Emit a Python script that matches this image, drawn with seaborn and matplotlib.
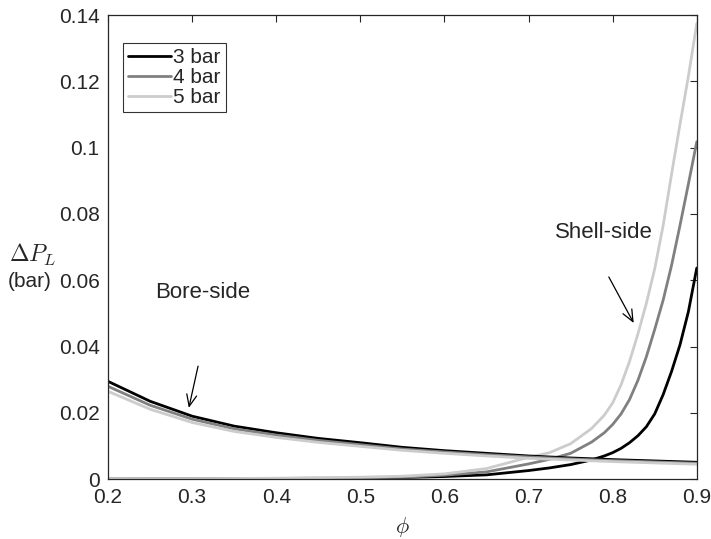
import matplotlib
matplotlib.use("Agg")
import matplotlib.pyplot as plt
import numpy as np
import pandas as pd
import seaborn as sns

sns.set_theme(style="white")
plt.rcParams['font.family'] = ['Liberation Sans', 'DejaVu Sans']
plt.rcParams['mathtext.fontset'] = 'cm'

pressures = ["3 bar", "4 bar", "5 bar"]
colors = ["#000000", "#808080", "#cccccc"]

# Bore-side pressure drop
phi_bore = [0.2, 0.25, 0.3, 0.35, 0.4, 0.45, 0.5, 0.55, 0.6, 0.65, 0.7, 0.75, 0.8, 0.85, 0.9]
bore_3 = [0.0295, 0.0235, 0.0190, 0.0160, 0.0140, 0.0123, 0.0110, 0.0096, 0.0086, 0.0078, 0.0070, 0.0064, 0.0059, 0.0055, 0.0051]
bore_4 = [0.0280, 0.0223, 0.0181, 0.0152, 0.0133, 0.0117, 0.0104, 0.0091, 0.0082, 0.0074, 0.0067, 0.0061, 0.0056, 0.0052, 0.0048]
bore_5 = [0.0265, 0.0211, 0.0171, 0.0144, 0.0126, 0.0111, 0.0099, 0.0087, 0.0078, 0.0070, 0.0063, 0.0058, 0.0053, 0.0049, 0.0045]

# Shell-side pressure drop
phi_shell = [0.2, 0.3, 0.4, 0.5, 0.55, 0.6, 0.65, 0.7, 0.725, 0.75, 0.775, 0.79,
             0.8, 0.81, 0.82, 0.83, 0.84, 0.85, 0.86, 0.87, 0.88, 0.89, 0.9]
shell_3 = [0.0, 0.0, 0.0001, 0.0003, 0.0005, 0.0008, 0.0013, 0.0026, 0.0034, 0.0044, 0.0058, 0.0070,
           0.0080, 0.0093, 0.0110, 0.0131, 0.0158, 0.0197, 0.0255, 0.0325, 0.0405, 0.0505, 0.0637]
shell_4 = [0.0, 0.0001, 0.0002, 0.0004, 0.0006, 0.0012, 0.0022, 0.0046, 0.0060, 0.0078, 0.0112, 0.0140,
           0.0165, 0.0197, 0.0240, 0.0298, 0.0369, 0.0452, 0.0540, 0.0645, 0.0765, 0.0890, 0.1018]
shell_5 = [0.0, 0.0001, 0.0003, 0.0006, 0.0009, 0.0016, 0.0032, 0.0066, 0.0080, 0.0107, 0.0153, 0.0193,
           0.0230, 0.0285, 0.0355, 0.0438, 0.0530, 0.0635, 0.0765, 0.0920, 0.1070, 0.1215, 0.1375]

bore = pd.DataFrame({"phi": phi_bore * 3,
                     "dp": bore_3 + bore_4 + bore_5,
                     "p": sum([[p] * len(phi_bore) for p in pressures], [])})
shell = pd.DataFrame({"phi": phi_shell * 3,
                      "dp": shell_3 + shell_4 + shell_5,
                      "p": sum([[p] * len(phi_shell) for p in pressures], [])})

fig = plt.figure(figsize=(7.11, 5.39), dpi=100)
ax = fig.add_axes([0.152, 0.111, 0.828, 0.861])

pal = dict(zip(pressures, colors))
sns.lineplot(data=shell, x="phi", y="dp", hue="p", palette=pal, lw=2.0, ax=ax, legend=False)
sns.lineplot(data=bore, x="phi", y="dp", hue="p", palette=pal, lw=2.0, ax=ax)

ax.set_xlim(0.2, 0.9)
ax.set_ylim(0, 0.14)
ax.set_xticks(np.arange(0.2, 0.91, 0.1))
ax.set_xticklabels(["0.2", "0.3", "0.4", "0.5", "0.6", "0.7", "0.8", "0.9"])
ax.set_yticks(np.arange(0, 0.141, 0.02))
ax.set_yticklabels(["0", "0.02", "0.04", "0.06", "0.08", "0.1", "0.12", "0.14"])
ax.tick_params(direction="in", length=5, width=0.8, colors="#262626",
               labelsize=15, top=True, right=True, pad=6)
for s in ax.spines.values():
    s.set_color("#262626")
    s.set_linewidth(0.9)
for lab in ax.get_xticklabels() + ax.get_yticklabels():
    lab.set_color("#262626")

ax.set_xlabel(r"$\phi$", fontsize=16, labelpad=6)
ax.set_ylabel("")
fig.text(0.046, 0.527, r"$\Delta P_L$", fontsize=17, ha="center", va="center")
fig.text(0.042, 0.477, "(bar)", fontsize=15, ha="center", va="center")

leg = ax.legend(title=None, loc="upper left", bbox_to_anchor=(0.0255, 0.94),
                fontsize=15, frameon=True, fancybox=False, handlelength=2.05,
                handletextpad=0.1, borderpad=0.25, labelspacing=0.05,
                borderaxespad=0)
leg.get_frame().set_edgecolor("black")
leg.get_frame().set_linewidth(0.8)

# Region labels with pointer arrows
arrow = dict(arrowstyle="->,head_length=0.7,head_width=0.3", color="black",
             lw=0.9, shrinkA=0, shrinkB=0)
ax.text(0.313, 0.0564, "Bore-side", fontsize=16, ha="center", va="center")
ax.annotate("", xy=(0.296, 0.0215), xytext=(0.307, 0.0341), arrowprops=arrow)
ax.text(0.79, 0.0745, "Shell-side", fontsize=16, ha="center", va="center")
ax.annotate("", xy=(0.825, 0.0471), xytext=(0.7954, 0.0610), arrowprops=arrow)

fig.savefig("out.png", dpi=100)
